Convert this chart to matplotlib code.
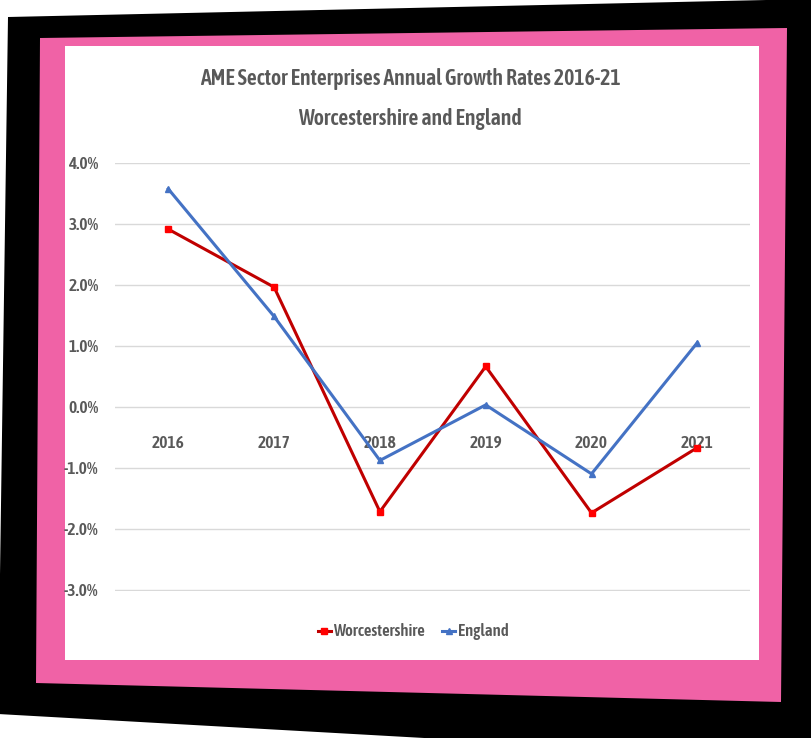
import matplotlib
matplotlib.use("Agg")
import matplotlib.pyplot as plt
from matplotlib.patches import Polygon
from matplotlib.ticker import FuncFormatter
from matplotlib import font_manager

years = ['2016', '2017', '2018', '2019', '2020', '2021']
worcestershire = [2.91, 1.96, -1.72, 0.66, -1.74, -0.67]
england = [3.57, 1.48, -0.88, 0.03, -1.10, 1.05]
series_names = ['Worcestershire', 'England']
title_lines = ['AME Sector Enterprises Annual Growth Rates 2016-21', 'Worcestershire and England']

W, H = 811, 738

# pick a condensed font if one is installed
def wnum(w):
    if isinstance(w, int):
        return w
    return font_manager.weight_dict.get(w, 400)

cond = [f for f in font_manager.fontManager.ttflist
        if ('Narrow' in f.name or 'Condensed' in f.name or 'Condensed' in f.fname or 'Narrow' in f.fname)
        and f.style == 'normal']

def pick_font(target_weight):
    if not cond:
        return None
    best = sorted(cond, key=lambda f: ('Liberation' not in f.fname, abs(wnum(f.weight) - target_weight)))[0]
    return best.fname

SEMI = pick_font(600)

def fprops(size, fname):
    if fname is not None:
        return font_manager.FontProperties(fname=fname, size=size)
    return font_manager.FontProperties(family='DejaVu Sans', size=size * 0.75)

fig = plt.figure(figsize=(W / 100, H / 100), dpi=100)
fig.patch.set_facecolor('white')

def fp(pts):
    return [(x / W, 1 - y / H) for x, y in pts]

fig.patches.append(Polygon(fp([(8, 17), (811, -1), (815, 760), (-2, 714)]),
                           closed=True, transform=fig.transFigure, facecolor='black', edgecolor='none', zorder=0))
fig.patches.append(Polygon(fp([(40, 38), (787, 28), (781, 702), (36, 683)]),
                           closed=True, transform=fig.transFigure, facecolor='#F062A6', edgecolor='none', zorder=1))
fig.patches.append(Polygon(fp([(65, 46), (759, 46), (759, 660), (65, 660)]),
                           closed=True, transform=fig.transFigure, facecolor='white', edgecolor='none', zorder=2))

ax = fig.add_axes([115.4 / W, 1 - 591 / H, (750.2 - 115.4) / W, (591 - 162.7) / H])
ax.patch.set_alpha(0)
ax.set_zorder(3)

x = list(range(len(years)))
ax.plot(x, worcestershire, color='#C00000', lw=2.2, marker='s', ms=5,
        mfc='#FF0000', mec='#FF0000', label=series_names[0], zorder=4)
ax.plot(x, england, color='#4472C4', lw=2.2, marker='^', ms=5,
        mfc='#4472C4', mec='#4472C4', label=series_names[1], zorder=4)

ax.set_xlim(-0.5, len(years) - 0.5)
ax.set_ylim(-3.02, 4)
ax.set_yticks([-3, -2, -1, 0, 1, 2, 3, 4])
ax.yaxis.set_major_formatter(FuncFormatter(lambda v, p: f'{v:.1f}%'))
ax.grid(axis='y', color='#D9D9D9', lw=1)
ax.set_axisbelow(True)
for s in ax.spines.values():
    s.set_visible(False)
ax.spines['bottom'].set_position(('data', 0))
ax.set_xticks(x)
ax.set_xticklabels(years)
ax.tick_params(axis='x', length=0, pad=20, labelcolor='#595959')
ax.tick_params(axis='y', length=0, pad=12, labelcolor='#595959')
for lab in ax.get_xticklabels() + ax.get_yticklabels():
    lab.set_fontproperties(fprops(12.5, SEMI))

fig.text(410 / W, 1 - 79 / H, title_lines[0], ha='center', va='center', color='#595959',
         fontproperties=fprops(15.7, SEMI))
fig.text(410 / W, 1 - 119 / H, title_lines[1], ha='center', va='center', color='#595959',
         fontproperties=fprops(15.7, SEMI))

leg = ax.legend(loc='center', bbox_to_anchor=(413 / W, 1 - 632 / H), bbox_transform=fig.transFigure,
                ncol=2, frameon=False, prop=fprops(12, SEMI),
                handlelength=0.8, handletextpad=0.15, columnspacing=1.0, labelcolor='#595959')

fig.savefig('out.png', dpi=100, facecolor=fig.get_facecolor())
